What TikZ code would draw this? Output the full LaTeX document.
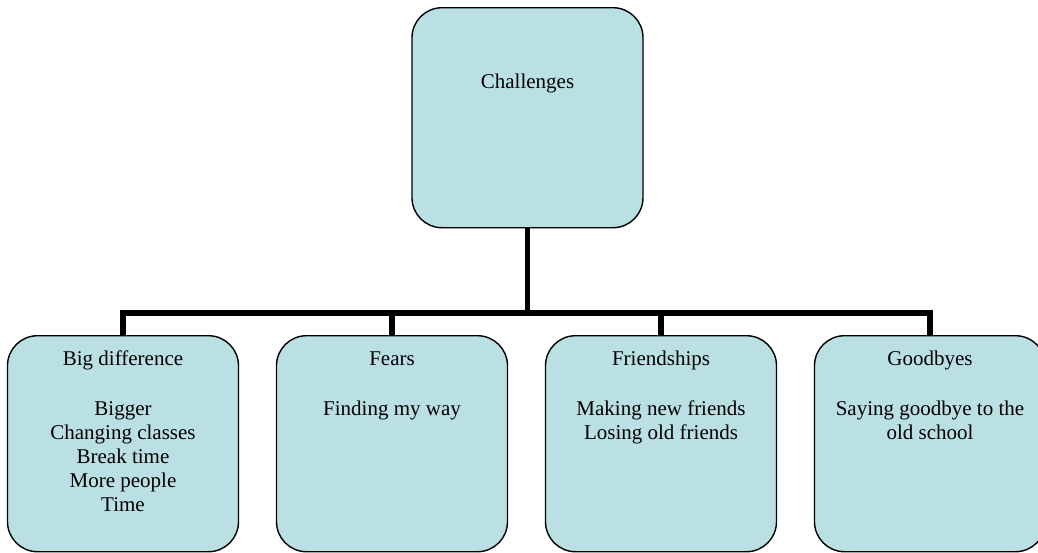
\documentclass[tikz,border=0pt]{standalone}
\usepackage{fontspec}
\setmainfont{Liberation Serif}
\definecolor{boxfill}{RGB}{187,224,227}
\begin{document}
\begin{tikzpicture}[x=1pt,y=-1pt,
  cbox/.style={draw=black,line width=1.4pt,fill=boxfill,rounded corners=30pt,
    minimum width=231pt,minimum height=#1,inner sep=0pt,anchor=north},
  ctext/.style={anchor=north,inner sep=0pt,align=center,
    font=\fontsize{21}{24}\selectfont},
  conn/.style={line width=5.5pt,draw=black}]
\useasboundingbox (0,0) rectangle (1038,552);
% boxes
\node[cbox=220pt] (top) at (527.5,7) {};
\node[cbox=216pt] (b1) at (123,335) {};
\node[cbox=216pt] (b2) at (392,335) {};
\node[cbox=216pt] (b3) at (661,335) {};
\node[cbox=216pt] (b4) at (930,335) {};
% texts
\node[ctext] (t0) at ([yshift=-67pt]top.north) {Challenges};
\node[ctext] (t1) at ([yshift=-16pt]b1.north) {Big difference\\[26pt]Bigger\\Changing classes\\Break time\\More people\\Time};
\node[ctext] (t2) at ([yshift=-16pt]b2.north) {\vphantom{d}Fears\\[26pt]Finding my way};
\node[ctext] (t3) at ([yshift=-16pt]b3.north) {Friendships\\[26pt]Making new friends\\Losing old friends};
\node[ctext] (t4) at ([yshift=-16pt]b4.north) {Goodbyes\\[26pt]Saying goodbye to the\\old school};
% connectors
\coordinate (j) at (527.5,313);
\coordinate (j1) at (123,313);
\coordinate (j2) at (392,313);
\coordinate (j3) at (661,313);
\coordinate (j4) at (930,313);
\draw[conn] (top.south) -- (j);
\draw[conn,line cap=rect] (j1) -- (j4);
\draw[conn] (j1) -- (b1.north);
\draw[conn] (j2) -- (b2.north);
\draw[conn] (j3) -- (b3.north);
\draw[conn] (j4) -- (b4.north);
\end{tikzpicture}
\end{document}
